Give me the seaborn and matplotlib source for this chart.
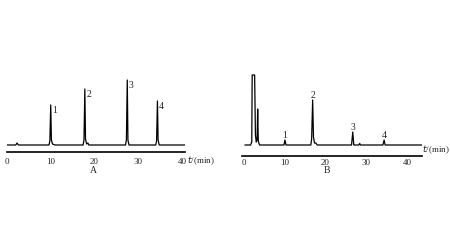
import matplotlib
matplotlib.use("Agg")
import matplotlib.pyplot as plt
import seaborn as sns

sns.set_style("white")
plt.rcParams['font.family'] = ['Liberation Serif', 'DejaVu Serif']

# Chromatogram A: retention time (min) and detector signal
times_A = [0.0, 2.0, 2.3, 2.6, 9.6, 9.8, 10.0, 10.15, 10.4, 11.0,
           17.4, 17.6, 17.8, 17.95, 18.2, 18.5, 18.7,
           27.1, 27.3, 27.5, 27.65, 27.9,
           34.0, 34.2, 34.4, 34.55, 34.8, 40.7]
signal_A = [0, 0, 2, 0, 0, 4, 40, 5, 1, 0,
            0, 5, 56, 6, 1, 2, 0,
            0, 5, 65, 5, 0,
            0, 4, 44, 5, 0, 0]
peaks_A_time = [10.0, 17.8, 27.5, 34.4]
peaks_A_height = [40, 56, 65, 44]

# Chromatogram B
times_B = [0.2, 1.6, 1.9, 2.0, 2.6, 2.8, 3.0, 3.2, 3.35, 3.5, 3.8,
           9.8, 10.05, 10.3,
           16.4, 16.6, 16.85, 17.05, 17.3, 17.6, 18.0,
           26.4, 26.7, 26.95, 28.2, 28.4, 28.6,
           34.1, 34.4, 34.65, 43.7]
signal_B = [0, 0, 3, 70, 70, 10, 3, 5, 36, 4, 0,
            0, 5, 0,
            0, 6, 45, 8, 2, 2, 0,
            0, 13, 0, 0, 1.5, 0,
            0, 5, 0, 0]
peaks_B_time = [10.05, 16.85, 26.7, 34.4]
peaks_B_height = [5, 45, 13, 5]

peak_labels = ["1", "2", "3", "4"]
xticks = [0, 10, 20, 30, 40]

W, H = 450, 253
fig = plt.figure(figsize=(4.5, 2.53), dpi=100)

def px_axes(left, right, top, bottom):
    return fig.add_axes([left / W, 1 - bottom / H, (right - left) / W, (bottom - top) / H])

# Panel A
axA = px_axes(7, 185, 78, 153)
sns.lineplot(x=times_A, y=signal_A, ax=axA, color='black', lw=0.9)
axA.set_xlim(0, 40.7)
axA.set_ylim(-7, 68)
for t, h, lab in zip(peaks_A_time, peaks_A_height, peak_labels):
    axA.annotate(lab, (t, h), xytext=(1.2, -3), textcoords='offset points',
                 fontsize=7, ha='left', va='center')
axA.text(1.01, -0.02, r"$t$/(min)", transform=axA.transAxes, fontsize=6.5,
         ha='left', va='top')
fig.text(93 / W, 1 - 171 / H, "A", fontsize=7, ha='center', va='center')

# Panel B
axB = px_axes(242, 422, 65, 157)
sns.lineplot(x=times_B, y=signal_B, ax=axB, color='black', lw=0.9)
axB.set_xlim(-0.5, 43.7)
axB.set_ylim(-11, 81)
for t, h, lab in zip(peaks_B_time, peaks_B_height, peak_labels):
    axB.annotate(lab, (t, h), xytext=(0, 0.5), textcoords='offset points',
                 fontsize=7, ha='center', va='bottom')
axB.text(1.0, 0.08, r"$t$/(min)", transform=axB.transAxes, fontsize=6.5,
         ha='left', va='center')
fig.text(327 / W, 1 - 171 / H, "B", fontsize=7, ha='center', va='center')

for ax, pad in ((axA, 3.5), (axB, 1.5)):
    for s in ('top', 'right', 'left'):
        ax.spines[s].set_visible(False)
    ax.spines['bottom'].set_linewidth(1.2)
    ax.spines['bottom'].set_color('black')
    ax.set_xticks(xticks)
    ax.set_xticklabels([str(v) for v in xticks], fontsize=6.5)
    ax.tick_params(axis='x', length=0, pad=pad)
    ax.set_yticks([])
    ax.set_xlabel("")
    ax.set_ylabel("")
    ax.patch.set_alpha(0)

fig.savefig("out.png", dpi=100)
